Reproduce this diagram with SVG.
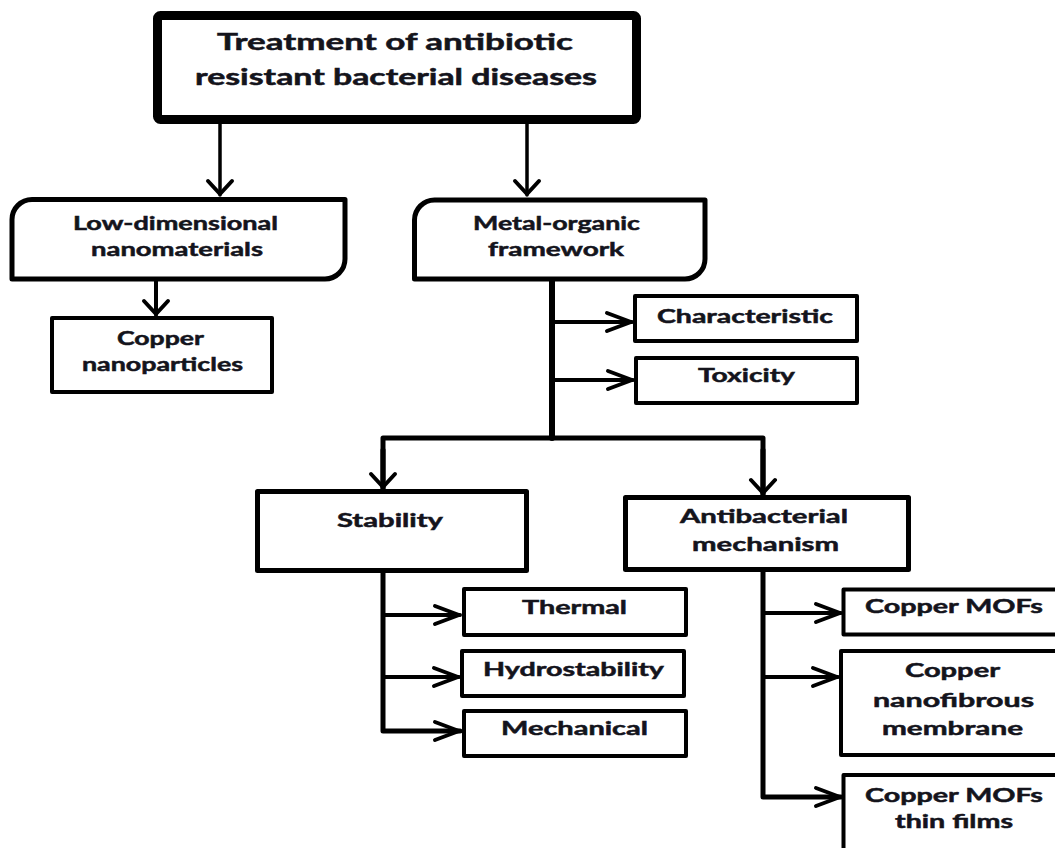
<svg xmlns="http://www.w3.org/2000/svg" width="1055" height="848" viewBox="0 0 1055 848">
<style>
.bx{fill:#fff;stroke:#000;stroke-linejoin:round}
.t{font-family:Lato,"Open Sans","DejaVu Sans",sans-serif;font-weight:700;font-size:19px;fill:#14141c;stroke:#14141c;stroke-width:0.5;text-anchor:middle}
.tt{font-size:22px}
.c{fill:none;stroke:#000;stroke-linecap:round;stroke-linejoin:round}
</style>
<defs>
<marker id="ah" markerUnits="userSpaceOnUse" viewBox="-30 -14 34 28" markerWidth="34" markerHeight="28" refX="0" refY="0" orient="auto" overflow="visible">
<path d="M-25,-9 L-1,0 L-25,9" fill="none" stroke="#000" stroke-width="4" stroke-linecap="round" stroke-linejoin="round"/>
</marker>
<marker id="av" markerUnits="userSpaceOnUse" viewBox="-20 -16 24 32" markerWidth="24" markerHeight="32" refX="0" refY="0" orient="auto" overflow="visible">
<path d="M-14,-12 L-1,0 L-14,12" fill="none" stroke="#000" stroke-width="4" stroke-linecap="round" stroke-linejoin="round"/>
</marker>
</defs>
<rect width="1055" height="848" fill="#fff"/>
<g id="connectors">
<path class="c" stroke-width="3.5" d="M220,124 L220,195" marker-end="url(#av)"/>
<path class="c" stroke-width="3.5" d="M527,124 L527,195" marker-end="url(#av)"/>
<path class="c" stroke-width="4" d="M156,281 L156,315" marker-end="url(#av)"/>
<path class="c" stroke-width="6" d="M552,281 L552,438"/>
<path class="c" stroke-width="4" d="M552,322 L632,322" marker-end="url(#ah)"/>
<path class="c" stroke-width="4" d="M552,380 L633,380" marker-end="url(#ah)"/>
<path class="c" stroke-width="5" d="M383,488 L383,438 L763,438 L763,494"/>
<path class="c" stroke-width="5" d="M383,450 L383,488" marker-end="url(#av)"/>
<path class="c" stroke-width="5" d="M763,450 L763,494" marker-end="url(#av)"/>
<path class="c" stroke-width="5" d="M383,572 L383,731 L460,731" marker-end="url(#ah)"/>
<path class="c" stroke-width="4" d="M383,615 L460,615" marker-end="url(#ah)"/>
<path class="c" stroke-width="4" d="M383,677 L459,677" marker-end="url(#ah)"/>
<path class="c" stroke-width="5" d="M763,572 L763,797 L841,797" marker-end="url(#ah)"/>
<path class="c" stroke-width="4" d="M763,613 L841,613" marker-end="url(#ah)"/>
<path class="c" stroke-width="4" d="M763,677 L838,677" marker-end="url(#ah)"/>
</g>
<g id="n-root">
<rect class="bx" x="157.5" y="15.5" width="479" height="104" rx="3" stroke-width="9"/>
<text class="t tt" x="395" y="50" textLength="356" lengthAdjust="spacingAndGlyphs">Treatment of antibiotic</text>
<text class="t tt" x="396" y="85" textLength="402" lengthAdjust="spacingAndGlyphs">resistant bacterial diseases</text>
</g>
<g id="n-lowdim">
<path class="bx" stroke-width="5" d="M32,199.5 L345,199.5 L345,259 A20,20 0 0 1 325,279 L12,279 L12,219.5 A20,20 0 0 1 32,199.5 Z"/>
<text class="t" x="175.5" y="230" textLength="205" lengthAdjust="spacingAndGlyphs">Low-dimensional</text>
<text class="t" x="177" y="256" textLength="172" lengthAdjust="spacingAndGlyphs">nanomaterials</text>
</g>
<g id="n-mof">
<path class="bx" stroke-width="5" d="M434.5,200 L705,200 L705,259 A20,20 0 0 1 685,279 L414.5,279 L414.5,220 A20,20 0 0 1 434.5,200 Z"/>
<text class="t" x="556.5" y="230" textLength="167" lengthAdjust="spacingAndGlyphs">Metal-organic</text>
<text class="t" x="556" y="256" textLength="136" lengthAdjust="spacingAndGlyphs">framework</text>
</g>
<g id="n-copper-np">
<rect class="bx" x="52" y="318" width="220" height="74" stroke-width="4"/>
<text class="t" x="160.5" y="345" textLength="87" lengthAdjust="spacingAndGlyphs">Copper</text>
<text class="t" x="162.5" y="371" textLength="161" lengthAdjust="spacingAndGlyphs">nanoparticles</text>
</g>
<g id="n-characteristic">
<rect class="bx" x="635" y="296" width="222" height="45" stroke-width="4"/>
<text class="t" x="745" y="323" textLength="176" lengthAdjust="spacingAndGlyphs">Characteristic</text>
</g>
<g id="n-toxicity">
<rect class="bx" x="636" y="358" width="221" height="45" stroke-width="4"/>
<text class="t" x="746.5" y="382" textLength="97" lengthAdjust="spacingAndGlyphs">Toxicity</text>
</g>
<g id="n-stability">
<rect class="bx" x="257.5" y="491.5" width="269" height="79" stroke-width="5"/>
<text class="t" x="390" y="527" textLength="106" lengthAdjust="spacingAndGlyphs">Stability</text>
</g>
<g id="n-antibacterial">
<rect class="bx" x="625.5" y="497.5" width="283" height="72" stroke-width="5"/>
<text class="t" x="764" y="523" textLength="168" lengthAdjust="spacingAndGlyphs">Antibacterial</text>
<text class="t" x="765.5" y="551" textLength="147" lengthAdjust="spacingAndGlyphs">mechanism</text>
</g>
<g id="n-thermal">
<rect class="bx" x="464" y="589" width="222" height="46" stroke-width="4"/>
<text class="t" x="574.5" y="614" textLength="105" lengthAdjust="spacingAndGlyphs">Thermal</text>
</g>
<g id="n-hydro">
<rect class="bx" x="462" y="651" width="222" height="45" stroke-width="4"/>
<text class="t" x="573.5" y="676" textLength="181" lengthAdjust="spacingAndGlyphs">Hydrostability</text>
</g>
<g id="n-mechanical">
<rect class="bx" x="464" y="711" width="222" height="45" stroke-width="4"/>
<text class="t" x="574.5" y="735" textLength="147" lengthAdjust="spacingAndGlyphs">Mechanical</text>
</g>
<g id="n-copper-mofs">
<rect class="bx" x="843.5" y="589.5" width="216" height="45" stroke-width="4"/>
<text class="t" x="954" y="613" textLength="178" lengthAdjust="spacingAndGlyphs">Copper MOFs</text>
</g>
<g id="n-nanofibrous">
<rect class="bx" x="841" y="651" width="218" height="104" stroke-width="4"/>
<text class="t" x="952.5" y="677" textLength="95" lengthAdjust="spacingAndGlyphs">Copper</text>
<text class="t" x="953.5" y="707" textLength="161" lengthAdjust="spacingAndGlyphs">nanofibrous</text>
<text class="t" x="952.5" y="735" textLength="141" lengthAdjust="spacingAndGlyphs">membrane</text>
</g>
<g id="n-thin-films">
<rect class="bx" x="843.5" y="775" width="216" height="90" stroke-width="4"/>
<text class="t" x="954" y="802" textLength="178" lengthAdjust="spacingAndGlyphs">Copper MOFs</text>
<text class="t" x="954" y="828" textLength="118" lengthAdjust="spacingAndGlyphs">thin films</text>
</g>
</svg>
